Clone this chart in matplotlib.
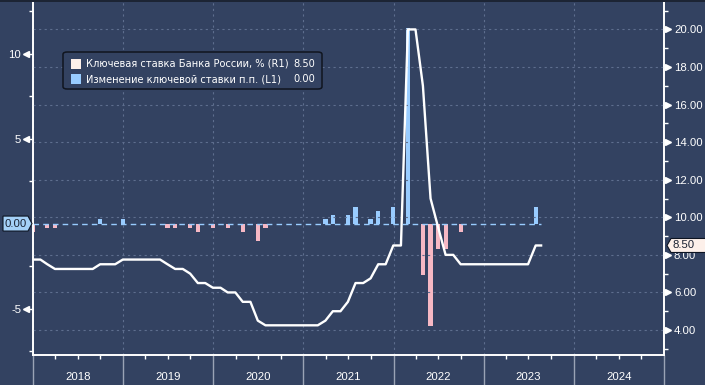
import matplotlib.pyplot as plt
import matplotlib.dates as mdates
import matplotlib.transforms as mtransforms
from matplotlib.patches import Polygon, FancyBboxPatch, Rectangle
from matplotlib.ticker import MultipleLocator, FuncFormatter
import numpy as np
import pandas as pd

# month-end key rate, Dec 2017 .. Jul 2023, plus the last (partial) August point
dates = list(pd.date_range('2017-12-31', '2023-07-31', freq='ME')) + [pd.Timestamp('2023-08-22')]
key_rate = [7.75,
            7.75, 7.50, 7.25, 7.25, 7.25, 7.25, 7.25, 7.25, 7.50, 7.50, 7.50, 7.75,
            7.75, 7.75, 7.75, 7.75, 7.75, 7.50, 7.25, 7.25, 7.00, 6.50, 6.50, 6.25,
            6.25, 6.00, 6.00, 5.50, 5.50, 4.50, 4.25, 4.25, 4.25, 4.25, 4.25, 4.25,
            4.25, 4.25, 4.50, 5.00, 5.00, 5.50, 6.50, 6.50, 6.75, 7.50, 7.50, 8.50,
            8.50, 20.00, 20.00, 17.00, 11.00, 9.50, 8.00, 8.00, 7.50, 7.50, 7.50, 7.50,
            7.50, 7.50, 7.50, 7.50, 7.50, 7.50, 8.50,
            8.50]
rate_change = [-0.50,
               0, -0.25, -0.25, 0, 0, 0, 0, 0, 0.25, 0, 0, 0.25,
               0, 0, 0, 0, 0, -0.25, -0.25, 0, -0.25, -0.50, 0, -0.25,
               0, -0.25, 0, -0.50, 0, -1.00, -0.25, 0, 0, 0, 0, 0,
               0, 0, 0.25, 0.50, 0, 0.50, 1.00, 0, 0.25, 0.75, 0, 1.00,
               0, 11.50, 0, -3.00, -6.00, -1.50, -1.50, 0, -0.50, 0, 0, 0,
               0, 0, 0, 0, 0, 0, 1.00,
               0.00]
years = [2018, 2019, 2020, 2021, 2022, 2023, 2024]
legend_labels = ['Ключевая ставка Банка России, % (R1)', 'Изменение ключевой ставки п.п. (L1)']

BG = '#334261'
GRID = '#5e6e8e'
BLUE = '#99ccff'
PINK = '#f6b8c4'
CREAM = '#fdf0ea'
DARK = '#1a2233'
W, H = 705, 385

plt.rcParams['font.family'] = ['Liberation Sans', 'DejaVu Sans']

fig = plt.figure(figsize=(W / 100, H / 100), dpi=100, facecolor=BG)
ax = fig.add_axes([33 / W, 30 / H, 631 / W, 353 / H], facecolor=BG)
ax2 = ax.twinx()

# bars: monthly change (left axis)
bar_colors = [BLUE if v > 0 else PINK for v in rate_change]
ax.bar(dates, rate_change, width=17, color=bar_colors, zorder=2)
ax.hlines(0, dates[0], dates[-1], colors=BLUE, linestyles=(0, (4, 3)), lw=1, zorder=3)

# line: key rate (right axis)
ax2.plot(dates, key_rate, color='white', lw=1.7, zorder=4)

ax.set_xlim(pd.Timestamp('2018-01-01'), pd.Timestamp('2025-01-01'))
ax.set_ylim(-7.73, 13.03)
ax2.set_ylim(2.67, 21.46)

for a in (ax, ax2):
    a.spines['top'].set_visible(False)
    for s in ('left', 'right', 'bottom'):
        a.spines[s].set_color('white')
        a.spines[s].set_linewidth(1.2)

# x axis
ax.xaxis.set_major_locator(mdates.YearLocator())
ax.xaxis.set_minor_locator(mdates.MonthLocator(bymonth=[4, 7, 10]))
ax.xaxis.set_major_formatter(FuncFormatter(lambda v, p: ''))
ax.tick_params(axis='x', which='major', length=21.6, width=1, color='#9aa3b5')
ax.tick_params(axis='x', which='minor', length=3, width=1, color='white')
ax.xaxis.grid(True, which='major', linestyle=(0, (2, 3)), color=GRID, lw=0.8)
xlab_tr = mtransforms.blended_transform_factory(ax.transData, ax.transAxes)
for yr in years:
    ax.text(pd.Timestamp(f'{yr}-07-02'), -22 / 353, str(yr), transform=xlab_tr,
            ha='center', va='center', color='white', fontsize=8.2)

# left axis
ax.yaxis.set_major_locator(MultipleLocator(5))
ax.yaxis.set_minor_locator(MultipleLocator(2.5))
ax.yaxis.set_major_formatter(FuncFormatter(lambda v, p: '' if v == 0 else f'{v:g}'))
ax.tick_params(axis='y', which='major', length=3, width=1, color='white',
               labelcolor='white', labelsize=8.2, pad=5.5)
ax.tick_params(axis='y', which='minor', length=3, width=1, color='white')
left_tr = mtransforms.offset_copy(mtransforms.blended_transform_factory(ax.transAxes, ax.transData),
                                  fig=fig, x=-7, y=0, units='dots')
ticks_l = [t for t in ax.get_yticks() if ax.get_ylim()[0] <= t <= ax.get_ylim()[1] and t != 0]
ax.plot(np.zeros(len(ticks_l)), ticks_l, ls='none', marker='<', ms=5, color='white',
        transform=left_tr, clip_on=False)

# right axis
ax2.yaxis.set_major_locator(MultipleLocator(2))
ax2.yaxis.set_minor_locator(MultipleLocator(1))
ax2.yaxis.set_major_formatter(FuncFormatter(lambda v, p: f'{v:.2f}'))
ax2.tick_params(axis='y', which='major', length=0, labelcolor='white', labelsize=8.2, pad=7.2)
ax2.tick_params(axis='y', which='minor', length=3, width=1, color='white')
ax2.yaxis.grid(True, which='major', linestyle=(0, (2, 3)), color=GRID, lw=0.8)
right_tr = mtransforms.offset_copy(mtransforms.blended_transform_factory(ax2.transAxes, ax2.transData),
                                   fig=fig, x=4, y=0, units='dots')
ticks_r = [t for t in ax2.get_yticks() if ax2.get_ylim()[0] <= t <= ax2.get_ylim()[1]]
ax2.plot(np.ones(len(ticks_r)), ticks_r, ls='none', marker='>', ms=5, color='white',
         transform=right_tr, clip_on=False)

# value tags at the last values: "0.00" on the left, "8.50" on the right
last_change = rate_change[-1]
last_rate = key_rate[-1]

base_l = mtransforms.blended_transform_factory(ax.transAxes, ax.transData)
tr_l = fig.dpi_scale_trans + mtransforms.ScaledTranslation(0, last_change, base_l)
fig.add_artist(Polygon(np.array([(-30, 7.5), (-5, 7.5), (-1, 0), (-5, -7.5), (-30, -7.5)]) / 100,
                       closed=True, transform=tr_l, fc='#a4d0f7', ec='#0d1422', lw=0.8, zorder=10))
fig.text(0, last_change, f'{last_change:.2f}', fontsize=8.2, color=DARK, ha='center', va='center',
         transform=mtransforms.offset_copy(base_l, fig=fig, x=-17, y=0, units='dots'), zorder=11)

base_r = mtransforms.blended_transform_factory(ax2.transAxes, ax2.transData)
tr_r = fig.dpi_scale_trans + mtransforms.ScaledTranslation(1, last_rate, base_r)
fig.add_artist(Polygon(np.array([(3, 0), (7, 7), (45, 7), (45, -7), (7, -7)]) / 100,
                       closed=True, transform=tr_r, fc=CREAM, ec='#0d1422', lw=0.8, zorder=10))
fig.text(1, last_rate, f'{last_rate:.2f}', fontsize=8.2, color=DARK, ha='center', va='center',
         transform=mtransforms.offset_copy(base_r, fig=fig, x=20, y=0, units='dots'), zorder=11)


# legend box (pixel layout)
def fx(px):
    return px / W


def fy(py):
    return 1 - py / H


fig.add_artist(FancyBboxPatch((fx(63), fy(89)), fx(322) - fx(63), fy(52) - fy(89),
                              boxstyle='round,pad=0,rounding_size=0.006', transform=fig.transFigure,
                              fc=BG, ec='#10151f', lw=1.1, zorder=12))
legend_values = [last_rate, last_change]
for i, (lab, col, val) in enumerate(zip(legend_labels, [CREAM, BLUE], legend_values)):
    yc = 64 + i * 15
    fig.add_artist(Rectangle((fx(71), fy(yc + 5)), fx(81) - fx(71), fy(yc - 5) - fy(yc + 5),
                             transform=fig.transFigure, fc=col, ec='none', zorder=13))
    fig.text(fx(86), fy(yc), lab, ha='left', va='center', color='white', fontsize=7.1,
             family=['DejaVu Sans'], zorder=13)
    fig.text(fx(315), fy(yc), f'{val:.2f}', ha='right', va='center', color='white', fontsize=7.1,
             family=['DejaVu Sans'], zorder=13)

# thin dark strip on top
fig.add_artist(Rectangle((0, fy(2)), 1, 2 / H, transform=fig.transFigure, fc='#1c2434', ec='none', zorder=20))

fig.savefig('out.png', dpi=100, facecolor=BG)
